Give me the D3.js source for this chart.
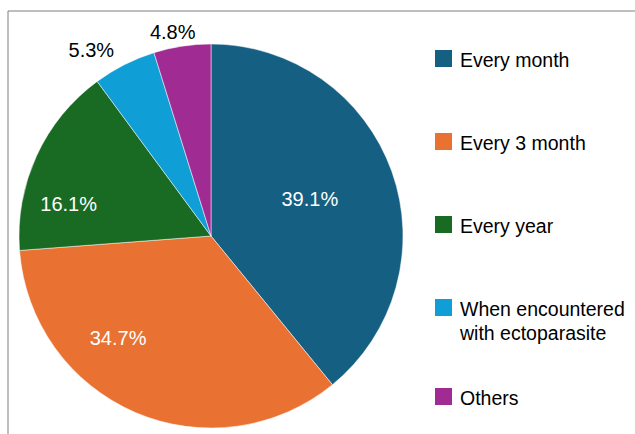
<!DOCTYPE html>
<html>
<head>
<meta charset="utf-8">
<script src="https://cdn.jsdelivr.net/npm/d3@7"></script>
<style>
    body { margin: 0; background: #fff; }
    svg text { font-family: "Liberation Sans", Arial, sans-serif; }
</style>
</head>
<body>
<svg id="chart" width="635" height="434"></svg>
<script>
// chart data
const categories = ["Every month", "Every 3 month", "Every year", "When encountered\nwith ectoparasite", "Others"];
const values = [39.1, 34.7, 16.1, 5.3, 4.8];
const colors = ["#156082", "#E97132", "#196B24", "#0F9ED5", "#A02B93"];

const svg = d3.select('#chart');

// frame (top + left edge only)
svg.append('path')
    .attr('d', 'M8,434 V11 H635')
    .style('fill', 'none')
    .style('stroke', '#7f7f7f')
    .style('stroke-width', 1);

const cx = 211, cy = 236, r = 192;

const pie = d3.pie().sort(null).value(d => d)(values);
const arc = d3.arc().innerRadius(0).outerRadius(r);

const g = svg.append('g').attr('transform', 'translate(' + cx + ',' + cy + ')');

g.selectAll('path.slice')
    .data(pie)
    .enter().append('path')
        .attr('class', 'slice')
        .attr('d', arc)
        .style('fill', (d, i) => colors[i])
        .style('stroke', '#fff')
        .style('stroke-width', 0.5);

// label placement, like the excel "best fit" (angle shift in deg, distance as fraction of r)
const labelPlace = [[-1, 0.55], [19, 0.72], [-12, 0.76], [-6, 1.15], [-2, 1.08]];

g.selectAll('text.pct')
    .data(pie)
    .enter().append('text')
        .attr('class', 'pct')
        .attr('transform', (d, i) => {
            let a = (d.startAngle + d.endAngle) / 2 + labelPlace[i][0] * Math.PI / 180;
            let rr = r * labelPlace[i][1];
            return 'translate(' + (Math.sin(a) * rr) + ',' + (-Math.cos(a) * rr) + ')';
        })
        .attr('text-anchor', 'middle')
        .attr('dy', '0.35em')
        .style('font-size', '20px')
        .style('fill', (d, i) => labelPlace[i][1] > 1 ? '#000' : '#fff')
        .text(d => d.data.toFixed(1) + '%');

// legend
const legend = svg.append('g').attr('transform', 'translate(435,0)');
let ytop = 50;
categories.forEach((c, i) => {
    let lines = c.split('\n');
    legend.append('rect')
        .attr('x', 0)
        .attr('y', ytop)
        .attr('width', 17)
        .attr('height', 17)
        .style('fill', colors[i]);
    let t = legend.append('text')
        .attr('x', 25)
        .attr('y', ytop + 17)
        .style('font-size', '19.5px')
        .style('fill', '#000');
    lines.forEach((l, j) => {
        t.append('tspan').attr('x', 25).attr('dy', j ? 24 : 0).text(l);
    });
    ytop += 83 + (lines.length - 1) * 6;
});
</script>
</body>
</html>
